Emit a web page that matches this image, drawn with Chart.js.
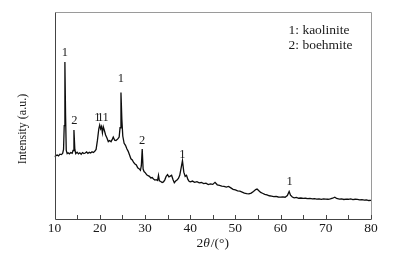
<!DOCTYPE html>
<html>
<head>
<meta charset="utf-8">
<script src="https://cdn.jsdelivr.net/npm/chart.js@4"></script>
<style>
html,body{margin:0;padding:0;background:#fff;}
#wrap{width:412px;height:256px;}
</style>
</head>
<body>
<div id="wrap"><canvas id="c" width="412" height="256"></canvas></div>
<script>
// 2θ (degrees)
const twoTheta = [
10.0,10.3,10.6,10.9,11.2,11.5,11.8,12.0,12.15,12.3,12.45,12.6,12.8,13.0,13.3,13.6,13.9,14.1,14.3,14.5,14.7,
15.0,15.3,15.6,15.9,16.2,16.5,16.8,17.1,17.4,17.7,18.0,18.3,18.6,18.9,19.2,19.5,19.8,20.0,20.2,20.4,20.6,20.8,
21.0,21.3,21.6,21.9,22.2,22.5,22.8,23.0,23.3,23.6,24.0,24.3,24.5,24.7,24.9,25.1,25.4,25.7,26.0,26.3,26.6,26.9,
27.2,27.5,27.8,28.1,28.4,28.7,29.0,29.2,29.4,29.6,29.8,30.1,30.4,30.7,31.0,31.3,31.6,31.9,32.2,32.5,32.8,33.0,
33.2,33.5,33.8,34.1,34.4,34.7,35.0,35.3,35.6,35.9,36.2,36.5,36.8,37.1,37.4,37.7,38.0,38.3,38.6,38.9,39.2,39.5,
39.8,40.1,40.5,41.0,41.5,42.0,42.5,43.0,43.5,44.0,44.5,45.0,45.5,46.0,46.5,47.0,47.5,48.0,48.5,49.0,49.5,50.0,
50.5,51.0,51.5,52.0,52.5,53.0,53.5,54.0,54.5,54.8,55.2,55.6,56.0,56.5,57.0,57.5,58.0,58.5,59.0,59.5,60.0,60.5,
61.0,61.5,61.9,62.2,62.6,63.0,63.5,64.0,64.5,65.0,65.5,66.0,66.5,67.0,67.5,68.0,68.5,69.0,69.5,70.0,70.5,71.0,
71.5,72.0,72.4,73.0,73.5,74.0,74.5,75.0,75.5,76.0,76.5,77.0,77.5,78.0,78.5,79.0,79.5,80.0
];
// Intensity (a.u.)
const intensity = [
30.0,30.5,30.8,30.4,31.2,31.0,31.6,33.5,45.0,75.8,50.0,33.0,31.5,31.9,31.4,32.0,31.6,33.0,42.9,33.5,31.5,
32.2,31.4,31.9,31.2,32.0,31.5,31.8,32.3,31.6,32.1,31.8,32.4,32.0,32.6,33.5,38.0,43.5,45.3,43.5,44.6,41.5,44.4,
43.0,40.5,39.0,37.3,37.8,37.2,38.5,39.5,38.0,37.8,38.6,39.5,44.0,61.0,48.0,40.0,36.5,35.5,33.8,32.6,30.8,29.0,
28.4,27.2,26.5,26.0,24.6,24.2,23.4,25.5,33.7,24.0,22.8,22.2,21.2,20.8,20.5,19.7,19.9,19.2,18.7,18.9,18.5,21.0,
18.3,18.0,17.5,17.8,18.8,20.5,21.3,20.2,20.6,21.0,19.0,17.4,18.2,18.7,19.5,21.0,24.5,28.1,22.5,20.5,21.0,19.0,
18.0,17.8,18.2,17.6,17.9,17.3,17.5,17.0,17.2,16.5,16.8,16.6,17.6,16.4,16.1,15.8,15.6,15.3,15.6,14.9,14.2,13.9,
13.5,13.3,12.9,12.4,12.1,12.0,12.4,13.2,14.1,14.4,13.5,12.7,12.3,11.8,11.5,11.1,10.9,10.7,10.8,10.5,10.4,10.6,
10.4,11.2,13.2,11.4,10.5,10.1,10.3,9.9,10.0,9.8,9.9,9.7,9.8,9.6,9.7,9.5,9.6,9.4,9.6,9.5,9.4,9.6,
9.9,10.4,9.8,9.5,9.6,9.3,9.5,9.4,9.6,9.2,9.4,9.3,9.1,9.2,9.0,9.1,8.8,8.9
];
// peak markers
const peakX = [12.3, 14.4, 19.5, 20.15, 21.3, 24.7, 29.4, 38.3, 62.0];
const peakY = [80.2, 47.3, 48.7, 48.7, 48.7, 67.6, 37.6, 30.8, 17.8];
const peakText = ['1','2','1','1','1','1','2','1','1'];
// key
const keyLines = ['1: kaolinite', '2: boehmite'];
// x tick marks
const minorTicks = [10,15,20,25,30,35,40,45,50,55,60,65,70,75,80];
const yTitle = 'Intensity (a.u.)';
// x title pieces: [text, italic]
const xTitleParts = [['2', false], ['θ', true], ['/(°)', false]];

const serif = "'Liberation Serif', 'Times New Roman', serif";

const decor = {
  id: 'decor',
  afterDatasetsDraw(chart) {
    const ctx = chart.ctx;
    const a = chart.chartArea;
    const xs = chart.scales.x, ys = chart.scales.y;
    ctx.save();
    ctx.lineWidth = 1;
    ctx.strokeStyle = '#9a9a9a';
    ctx.beginPath();
    ctx.moveTo(Math.round(a.left)+0.5, Math.round(a.top)+0.5);
    ctx.lineTo(Math.round(a.right)+0.5, Math.round(a.top)+0.5);
    ctx.lineTo(Math.round(a.right)+0.5, Math.round(a.bottom)+0.5);
    ctx.stroke();
    ctx.strokeStyle = '#444';
    ctx.beginPath();
    ctx.moveTo(Math.round(a.left)+0.5, Math.round(a.top)+0.5);
    ctx.lineTo(Math.round(a.left)+0.5, Math.round(a.bottom)+0.5);
    ctx.lineTo(Math.round(a.right)+0.5, Math.round(a.bottom)+0.5);
    ctx.stroke();
    ctx.beginPath();
    minorTicks.forEach(v => {
      const px = Math.round(xs.getPixelForValue(v)) + 0.5;
      ctx.moveTo(px, Math.round(a.bottom));
      ctx.lineTo(px, Math.round(a.bottom) - 4);
    });
    ctx.stroke();
    ctx.fillStyle = '#1a1a1a';
    ctx.font = '12.5px ' + serif;
    ctx.textAlign = 'center';
    ctx.textBaseline = 'middle';
    peakX.forEach((v, i) => {
      ctx.fillText(peakText[i], xs.getPixelForValue(v), ys.getPixelForValue(peakY[i]));
    });
    ctx.textAlign = 'left';
    ctx.font = '13.5px ' + serif;
    keyLines.forEach((t, i) => {
      ctx.fillText(t, 288.5, 30 + i * 15);
    });
    // x axis title with italic theta
    const fontFor = it => (it ? 'italic ' : '') + '13.5px ' + serif;
    let total = 0;
    xTitleParts.forEach(p => { ctx.font = fontFor(p[1]); total += ctx.measureText(p[0]).width + (p[1] ? 1 : 0); });
    let cx = (a.left + a.right) / 2 - total / 2;
    xTitleParts.forEach(p => {
      ctx.font = fontFor(p[1]);
      ctx.fillText(p[0], cx, 243);
      cx += ctx.measureText(p[0]).width + (p[1] ? 1 : 0);
    });
    // y axis title
    ctx.save();
    ctx.translate(23, 129);
    ctx.rotate(-Math.PI / 2);
    ctx.textAlign = 'center';
    ctx.font = '12px ' + serif;
    ctx.fillText(yTitle, 0, 0);
    ctx.restore();
    ctx.restore();
  }
};

new Chart(document.getElementById('c'), {
  type: 'line',
  data: {
    datasets: [{
      data: twoTheta.map((x, i) => ({x: x, y: intensity[i]})),
      borderColor: '#0d0d0d',
      borderWidth: 1.3,
      pointRadius: 0,
      tension: 0,
      fill: false
    }]
  },
  options: {
    responsive: false,
    animation: false,
    devicePixelRatio: 1,
    layout: {padding: {left: 10, right: 41, top: 12, bottom: 3}},
    plugins: {legend: {display: false}, tooltip: {enabled: false}},
    scales: {
      x: {
        type: 'linear',
        min: 10, max: 80,
        grid: {display: false, drawTicks: false},
        border: {display: false},
        ticks: {stepSize: 10, color: '#1a1a1a', padding: 2, font: {family: serif, size: 13.5}, maxRotation: 0},
        title: {display: false},
        afterFit(s) { s.height = 34.3; }
      },
      y: {
        min: 0, max: 100,
        grid: {display: false, drawTicks: false},
        border: {display: false},
        ticks: {display: false},
        title: {display: false},
        afterFit(s) { s.width = 44.5; }
      }
    }
  },
  plugins: [decor]
});
</script>
</body>
</html>
